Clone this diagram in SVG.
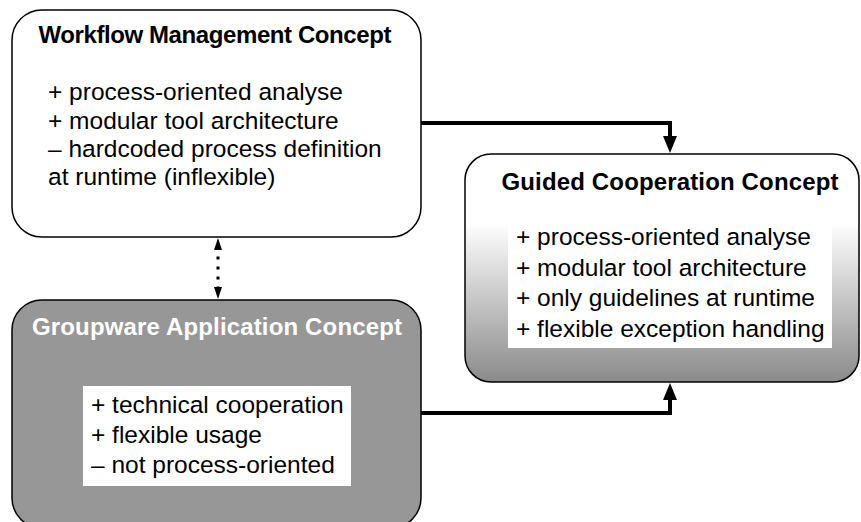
<svg xmlns="http://www.w3.org/2000/svg" width="861" height="522" viewBox="0 0 861 522">
<defs>
<style>
.box{stroke:#000;stroke-width:1.5}
.title{font-family:"Liberation Sans",Arial,sans-serif;font-size:24px;font-weight:bold;text-anchor:middle}
.body{font-family:"Liberation Sans",Arial,sans-serif;font-size:24.5px;fill:#000}
.thick{fill:none;stroke:#000;stroke-width:4}
.dotted{fill:none;stroke:#000;stroke-width:3;stroke-dasharray:3 7;stroke-dashoffset:3.5}
</style>
<linearGradient id="gGuided" x1="0" y1="0" x2="0" y2="1">
<stop offset="0.3" stop-color="#ffffff"/>
<stop offset="1" stop-color="#8a8a8a"/>
</linearGradient>
<marker id="bigHead" markerUnits="userSpaceOnUse" markerWidth="17" markerHeight="14" refX="0" refY="7" orient="auto" overflow="visible">
<path d="M0,0 L17,7 L0,14 Z" fill="#000"/>
</marker>
<marker id="smallHead" markerUnits="userSpaceOnUse" markerWidth="12" markerHeight="8" refX="0" refY="4" orient="auto-start-reverse" overflow="visible">
<path d="M0,0 L12,4 L0,8 Z" fill="#000"/>
</marker>
</defs>
<rect width="861" height="522" fill="#fff"/>

<g id="workflow">
<rect class="box" x="12" y="10" width="409" height="227" rx="30" ry="30" fill="#fff"/>
<text class="title" x="215" y="43" textLength="353">Workflow Management Concept</text>
<text class="body" x="48" y="100">+ process-oriented analyse</text>
<text class="body" x="48" y="128.5">+ modular tool architecture</text>
<text class="body" x="48" y="157">– hardcoded process definition</text>
<text class="body" x="48" y="185">at runtime (inflexible)</text>
</g>

<g id="groupware">
<rect class="box" x="12" y="300" width="409" height="228" rx="30" ry="30" fill="#979797"/>
<text class="title" x="217" y="335" fill="#fff" textLength="370">Groupware Application Concept</text>
<rect x="83" y="386" width="268" height="100" fill="#fff"/>
<text class="body" x="91" y="413">+ technical cooperation</text>
<text class="body" x="91" y="443">+ flexible usage</text>
<text class="body" x="91" y="473">– not process-oriented</text>
</g>

<g id="guided">
<rect class="box" x="465" y="154" width="394" height="228" rx="26" ry="26" fill="url(#gGuided)"/>
<text class="title" x="670" y="190" textLength="337">Guided Cooperation Concept</text>
<rect x="508" y="218" width="324" height="130" fill="#fff"/>
<text class="body" x="516" y="245">+ process-oriented analyse</text>
<text class="body" x="516" y="275.5">+ modular tool architecture</text>
<text class="body" x="516" y="306">+ only guidelines at runtime</text>
<text class="body" x="516" y="336.5">+ flexible exception handling</text>
</g>

<g id="connectors">
<path class="thick" d="M421,123 H670 V136" marker-end="url(#bigHead)"/>
<path class="thick" d="M421,413 H670 V400" marker-end="url(#bigHead)"/>
<path class="dotted" d="M218,250 V287" marker-start="url(#smallHead)" marker-end="url(#smallHead)"/>
</g>
</svg>
